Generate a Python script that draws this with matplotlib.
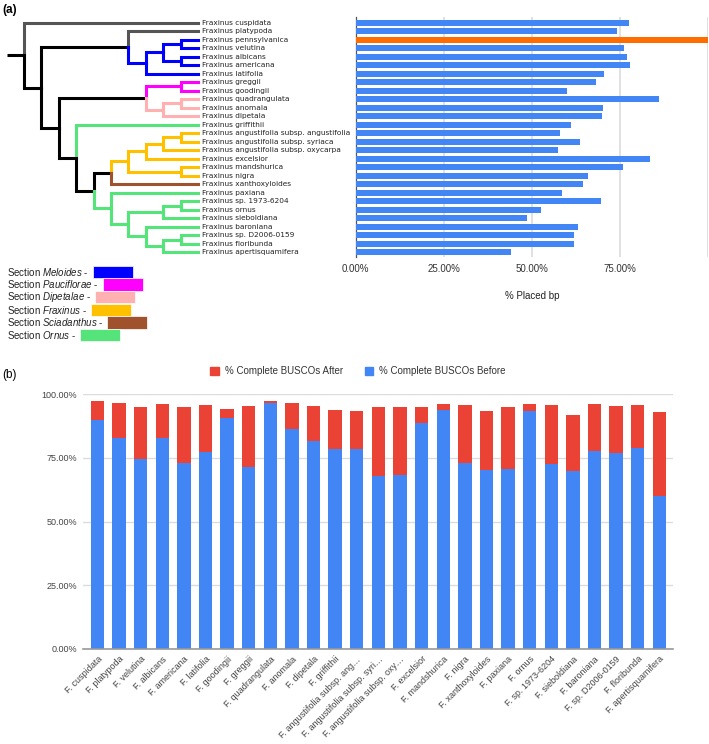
import numpy as np
import matplotlib.pyplot as plt
from matplotlib.patches import Rectangle, Patch

plt.rcParams['font.family'] = ['Liberation Sans', 'DejaVu Sans']
plt.rcParams['mathtext.fontset'] = 'custom'
plt.rcParams['mathtext.rm'] = 'Liberation Sans'
plt.rcParams['mathtext.it'] = 'Liberation Sans:italic'

# ---- panel (a) data ----
SPECIES = ["cuspidata", "platypoda", "pennsylvanica", "velutina", "albicans",
           "americana", "latifolia", "greggii", "goodingii", "quadrangulata",
           "anomala", "dipetala", "griffithii",
           "angustifolia subsp. angustifolia", "angustifolia subsp. syriaca",
           "angustifolia subsp. oxycarpa", "excelsior", "mandshurica", "nigra",
           "xanthoxyloides", "paxiana", "sp. 1973-6204", "ornus", "sieboldiana",
           "baroniana", "sp. D2006-0159", "floribunda", "apertisquamifera"]
PLACED_BP = [77.6, 74.2, 100.0, 76.2, 77.0, 77.9, 70.6, 68.2, 59.9, 86.2,
             70.1, 69.9, 61.0, 58.0, 63.7, 57.3, 83.6, 75.8, 66.0, 64.6,
             58.5, 69.6, 52.5, 48.5, 63.2, 62.0, 62.0, 44.2]
REFERENCE = "pennsylvanica"

SECTIONS = ["Meloides", "Pauciflorae", "Dipetalae", "Fraxinus", "Sciadanthus", "Ornus"]
SECTION_COLORS = ["#0000ff", "#ff00ff", "#ffb0b0", "#ffc000", "#a0522d", "#55e47a"]
BLUE_S, MAG, PINK, YEL, BROWN, GREEN = SECTION_COLORS
BLACK, GRAY = "#000000", "#555555"

# ---- panel (b) data ----
BUSCO_LABELS = ["F. cuspidata", "F. platypoda", "F. velutina", "F. albicans",
                "F. americana", "F. latifolia", "F. goodingii", "F. greggii",
                "F. quadrangulata", "F. anomala", "F. dipetala", "F. griffithii",
                "F. angustifolia subsp. ang…", "F. angustifolia subsp. syri…",
                "F. angustifolia subsp. oxy…", "F. excelsior", "F. mandshurica",
                "F. nigra", "F. xanthoxyloides", "F. paxiana", "F. ornus",
                "F. sp. 1973-6204", "F. sieboldiana", "F. baroniana",
                "F. sp. D2006-0159", "F. floribunda", "F. apertisquamifera"]
BUSCO_BEFORE = [90.0, 83.0, 74.7, 83.0, 73.2, 77.3, 90.5, 71.3, 96.5, 86.2,
                81.5, 78.4, 78.4, 67.8, 68.5, 88.9, 94.0, 72.9, 70.4, 70.7,
                93.6, 72.6, 69.8, 77.6, 76.8, 78.9, 59.9]
BUSCO_AFTER = [97.4, 96.7, 95.2, 96.1, 94.9, 95.8, 94.3, 95.4, 97.5, 96.7,
               95.4, 93.9, 93.6, 94.9, 94.9, 94.9, 96.1, 95.7, 93.6, 95.2,
               96.3, 95.7, 91.8, 96.1, 95.4, 95.7, 93.2]


# ---- tree ----
def tip(name, color=None):
    return {"name": name, "c": color}


def clade(depth, color, *kids):
    return {"d": depth, "c": color, "kids": kids}


TIP_DEPTH = 10
TREE = clade(0, BLACK,
    tip("cuspidata", GRAY),
    clade(1, BLACK,
        clade(6, BLACK,
            tip("platypoda", GRAY),
            clade(7, BLUE_S,
                clade(8, None,
                    clade(9, None, tip("pennsylvanica"), tip("velutina")),
                    clade(9, None, tip("albicans"), tip("americana"))),
                tip("latifolia"))),
        clade(2, BLACK,
            clade(7, BLACK,
                clade(9, MAG, tip("greggii"), tip("goodingii")),
                clade(8, PINK,
                    clade(9, None, tip("quadrangulata"), tip("anomala")),
                    tip("dipetala"))),
            clade(3, BLACK,
                tip("griffithii", GREEN),
                clade(4, BLACK,
                    clade(5, BLACK,
                        clade(6, YEL,
                            clade(7, None,
                                clade(8, None,
                                    clade(9, None,
                                          tip("angustifolia subsp. angustifolia"),
                                          tip("angustifolia subsp. syriaca")),
                                    tip("angustifolia subsp. oxycarpa")),
                                tip("excelsior")),
                            clade(9, None, tip("mandshurica"), tip("nigra"))),
                        tip("xanthoxyloides", BROWN)),
                    clade(5, GREEN,
                        tip("paxiana"),
                        clade(6, None,
                            clade(8, None,
                                clade(9, None, tip("sp. 1973-6204"), tip("ornus")),
                                tip("sieboldiana")),
                            clade(7, None,
                                tip("baroniana"),
                                clade(8, None,
                                    clade(9, None, tip("sp. D2006-0159"), tip("floribunda")),
                                    tip("apertisquamifera"))))))))))


def layout(node, parent_color):
    node["col"] = node["c"] or parent_color
    if "name" in node:
        node["x"], node["y"] = TIP_DEPTH, SPECIES.index(node["name"])
    else:
        for k in node["kids"]:
            layout(k, node["col"])
        node["x"] = node["d"]
        node["y"] = (node["kids"][0]["y"] + node["kids"][-1]["y"]) / 2


def draw(ax, node):
    for k in node.get("kids", ()):
        ax.plot([node["x"], node["x"], k["x"]], [node["y"], k["y"], k["y"]],
                color=k["col"], lw=2.2, solid_joinstyle="miter",
                solid_capstyle="projecting")
        draw(ax, k)


W, H = 709, 744
fig = plt.figure(figsize=(W / 100, H / 100), dpi=100)


def px_axes(x0, y0, x1, y1, **kw):
    return fig.add_axes([x0 / W, 1 - y1 / H, (x1 - x0) / W, (y1 - y0) / H], **kw)


# overlay for panel labels and section key
ov = px_axes(0, 0, W, H)
ov.set_xlim(0, W)
ov.set_ylim(H, 0)
ov.axis("off")

n = len(SPECIES)
row_lim = (27.555, -0.67)

# tree
ax_t = px_axes(0, 17, 355.7, 257)
layout(TREE, BLACK)
ax_t.plot([-1, 0], [TREE["y"], TREE["y"]], color=BLACK, lw=2.2, solid_capstyle="butt")
draw(ax_t, TREE)
for i, s in enumerate(SPECIES):
    ax_t.text(TIP_DEPTH + 0.25, i, "Fraxinus " + s, fontsize=5.3, va="center",
              family="DejaVu Sans", color="#222222")
ax_t.set_xlim(-24 / 17.4, (355.7 - 24) / 17.4)
ax_t.set_ylim(*row_lim)
ax_t.axis("off")

# placed bp bars
ax_a = px_axes(355.7, 17, 708, 257)
cols = ["#ff6d01" if s == REFERENCE else "#4285f4" for s in SPECIES]
ax_a.barh(np.arange(n), PLACED_BP, height=0.68, color=cols, zorder=3)
ax_a.set_ylim(*row_lim)
ax_a.set_xlim(0, 100)
ax_a.set_xticks([0, 25, 50, 75, 100])
ax_a.set_xticklabels(["0.00%", "25.00%", "50.00%", "75.00%", ""])
ax_a.set_yticks([])
ax_a.grid(axis="x", color="#dcdcdc", lw=1.2, zorder=0)
for sp in ["top", "right", "bottom"]:
    ax_a.spines[sp].set_visible(False)
ax_a.spines["left"].set_color("#555555")
ax_a.spines["left"].set_linewidth(0.9)
ax_a.tick_params(axis="x", length=0, labelsize=7, labelcolor="#333333", pad=5)
ax_a.set_xlabel("% Placed bp", fontsize=7, color="#222222", labelpad=12)

# section key
for i, (sec, c) in enumerate(zip(SECTIONS, SECTION_COLORS)):
    y = 271.7 + 12.7 * i
    t = ov.text(7, y, r"Section $\it{" + sec + "}$ -", fontsize=7, va="center",
                color="#222222")
    fig.canvas.draw()
    bb = t.get_window_extent()
    ov.add_patch(Rectangle((bb.x1 + 4, y - 6.2), 40, 12.3, facecolor=c,
                           edgecolor="white", lw=0.5))

ov.text(2, 10, "(a)", fontsize=8.5, fontweight="bold", va="center")
ov.text(2, 375, "(b)", fontsize=8.5, va="center")

# ---- panel (b) ----
ax_b = px_axes(82.7, 394.3, 673, 649)
x = np.arange(len(BUSCO_LABELS))
before = np.array(BUSCO_BEFORE)
after = np.array(BUSCO_AFTER)
ax_b.bar(x, before, width=0.62, color="#4285f4", zorder=3)
ax_b.bar(x, after - before, bottom=before, width=0.62, color="#ea4335", zorder=3)
ax_b.set_ylim(0, 100)
ax_b.set_xlim(-0.68, len(x) - 1 + 0.63)
ax_b.set_yticks([0, 25, 50, 75, 100])
ax_b.set_yticklabels(["0.00%", "25.00%", "50.00%", "75.00%", "100.00%"])
ax_b.grid(axis="y", color="#dcdcdc", lw=1.0, zorder=0)
for sp in ["top", "right", "left"]:
    ax_b.spines[sp].set_visible(False)
ax_b.spines["bottom"].set_color("#999999")
ax_b.spines["bottom"].set_linewidth(1.2)
ax_b.spines["bottom"].set_zorder(4)
ax_b.set_xticks(x)
ax_b.set_xticklabels(BUSCO_LABELS, rotation=45, ha="right", rotation_mode="anchor")
ax_b.tick_params(axis="x", length=0, labelsize=6.5, labelcolor="#444444", pad=4)
ax_b.tick_params(axis="y", length=0, labelsize=6.5, labelcolor="#444444", pad=4)

handles = [Patch(color="#ea4335", label="% Complete BUSCOs After"),
           Patch(color="#4285f4", label="% Complete BUSCOs Before")]
fig.legend(handles=handles, loc="center", bbox_to_anchor=(358 / W, 1 - 371 / H),
           ncol=2, frameon=False, fontsize=7, handlelength=0.9, handleheight=0.9,
           columnspacing=2.2, handletextpad=0.6, labelcolor="#333333")

fig.savefig("out.png", dpi=100)
